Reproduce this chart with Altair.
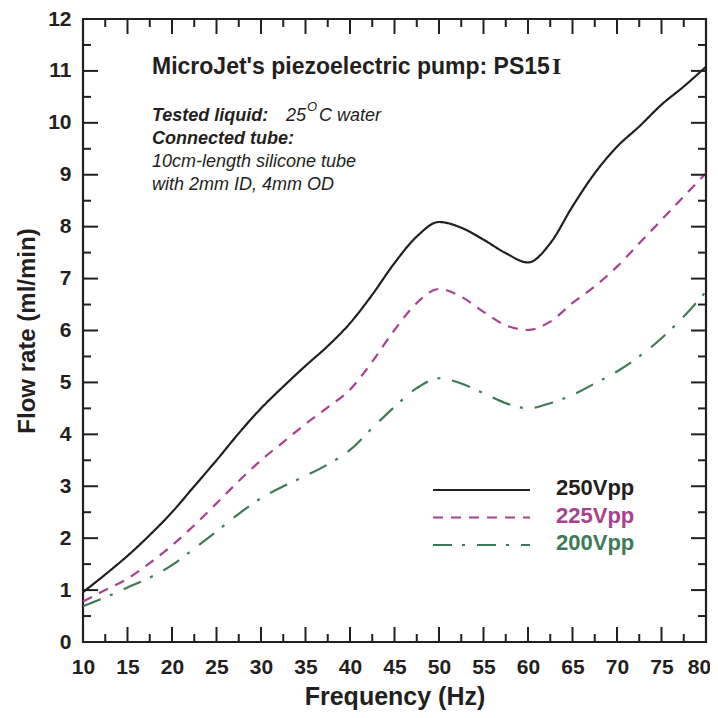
import altair as alt
import pandas as pd

freq = [10, 12.5, 15, 17.5, 20, 22.5, 25, 27.5, 30, 32.5, 35, 37.5, 40, 42.5, 45, 47.5,
        50, 52.5, 55, 57.5, 60, 62.5, 65, 67.5, 70, 72.5, 75, 77.5, 80]
v250 = [0.96, 1.30, 1.66, 2.06, 2.50, 3.00, 3.50, 4.02, 4.50, 4.92, 5.32, 5.70, 6.14, 6.69, 7.30, 7.81,
        8.09, 7.98, 7.75, 7.49, 7.31, 7.68, 8.39, 9.03, 9.54, 9.93, 10.35, 10.70, 11.08]
v225 = [0.78, 1.00, 1.22, 1.52, 1.86, 2.25, 2.67, 3.10, 3.50, 3.85, 4.20, 4.52, 4.86, 5.40, 6.01, 6.53,
        6.80, 6.65, 6.36, 6.10, 6.01, 6.17, 6.53, 6.85, 7.23, 7.68, 8.13, 8.58, 9.03]
v200 = [0.69, 0.86, 1.05, 1.24, 1.48, 1.80, 2.13, 2.47, 2.77, 3.00, 3.20, 3.42, 3.70, 4.12, 4.53, 4.89,
        5.08, 4.98, 4.79, 4.60, 4.50, 4.60, 4.76, 4.98, 5.21, 5.50, 5.85, 6.27, 6.75]

series = ["250Vpp", "225Vpp", "200Vpp"]
colors = ["#231f20", "#a8428c", "#3e7a58"]
dashes = [[1, 0], [10, 8], [19, 10, 3, 12]]

x_major = [10, 15, 20, 25, 30, 35, 40, 45, 50, 55, 60, 65, 70, 75, 80]
x_minor = [12.5, 17.5, 22.5, 27.5, 32.5, 37.5, 42.5, 47.5, 52.5, 57.5, 62.5, 67.5, 72.5, 77.5]
y_major = [0, 1, 2, 3, 4, 5, 6, 7, 8, 9, 10, 11, 12]
y_minor = [0.5, 1.5, 2.5, 3.5, 4.5, 5.5, 6.5, 7.5, 8.5, 9.5, 10.5, 11.5]

W, H = 623, 623
FONT = "Liberation Sans"
INK = "#231f20"

rows = []
for s, vals in zip(series, [v250, v225, v200]):
    for f, v in zip(freq, vals):
        rows.append({"f": f, "v": v, "series": s})
df = pd.DataFrame(rows)

xs = alt.Scale(domain=[10, 80], nice=False, zero=False)
ys = alt.Scale(domain=[0, 12], nice=False, zero=False)
cs = alt.Scale(domain=series, range=colors)
ds = alt.Scale(domain=series, range=dashes)

lines = alt.Chart(df).mark_line(interpolate="monotone", strokeWidth=2.2, clip=True).encode(
    x=alt.X("f:Q", scale=xs,
            axis=alt.Axis(values=x_major, title="Frequency (Hz)", grid=False, ticks=False, domain=False,
                          labelFont=FONT, labelFontWeight="bold", labelFontSize=21, labelColor=INK,
                          labelPadding=14, titleFont=FONT, titleFontWeight="bold", titleFontSize=25,
                          titleColor=INK, titlePadding=7, labelFlush=False,
                          labelOffset={"condition": {"test": "datum.value == 80", "value": -7}, "value": 0})),
    y=alt.Y("v:Q", scale=ys,
            axis=alt.Axis(values=y_major, title="Flow rate (ml/min)", grid=False, ticks=False, domain=False,
                          labelFont=FONT, labelFontWeight="bold", labelFontSize=21, labelColor=INK,
                          labelPadding=12, titleFont=FONT, titleFontWeight="bold", titleFontSize=24,
                          titleColor=INK, titlePadding=8, labelFlush=False)),
    color=alt.Color("series:N", scale=cs, legend=None),
    strokeDash=alt.StrokeDash("series:N", scale=ds, legend=None),
    detail="series:N",
)

xmaj = pd.DataFrame({"t": x_major})
xmin = pd.DataFrame({"t": x_minor})
ymaj = pd.DataFrame({"t": y_major})
ymin = pd.DataFrame({"t": y_minor})

def xticks(d, length):
    b = alt.Chart(d).mark_rule(color=INK, strokeWidth=2).encode(
        x=alt.X("t:Q", scale=xs), y=alt.value(H), y2=alt.value(H - length))
    t = alt.Chart(d).mark_rule(color=INK, strokeWidth=2).encode(
        x=alt.X("t:Q", scale=xs), y=alt.value(0), y2=alt.value(length))
    return b + t

def yticks(d, length):
    l = alt.Chart(d).mark_rule(color=INK, strokeWidth=2).encode(
        y=alt.Y("t:Q", scale=ys), x=alt.value(0), x2=alt.value(length))
    r = alt.Chart(d).mark_rule(color=INK, strokeWidth=2).encode(
        y=alt.Y("t:Q", scale=ys), x=alt.value(W), x2=alt.value(W - length))
    return l + r

ticks = xticks(xmaj, 15) + xticks(xmin, 8) + yticks(ymaj, 15) + yticks(ymin, 8)

legend_layers = []
for i, (s, c, d) in enumerate(zip(series, colors, dashes)):
    yy = 471 + 27.5 * i
    one = pd.DataFrame({"series": [s]})
    legend_layers.append(alt.Chart(one).mark_rule(strokeWidth=2.2, color=c, strokeDash=d).encode(
        x=alt.value(350), x2=alt.value(447), y=alt.value(yy)))
    legend_layers.append(alt.Chart(one).mark_text(
        align="left", baseline="middle", font=FONT, fontWeight="bold", fontSize=22, color=c, dy=-2).encode(
        x=alt.value(473), y=alt.value(yy), text="series:N"))

def label(txt, x, y, size, weight="normal", style="normal", font=FONT):
    return alt.Chart(pd.DataFrame({"a": [0]})).mark_text(
        text=txt, align="left", baseline="alphabetic", font=font, fontSize=size,
        fontWeight=weight, fontStyle=style, color=INK).encode(
        x=alt.value(x), y=alt.value(y))

notes = (
    label("MicroJet's piezoelectric pump: PS15", 69, 55, 23, weight="bold")
    + label("I", 469, 55, 24, weight="bold", font="Liberation Serif")
    + label("Tested liquid:", 69, 102, 18, weight="bold", style="italic")
    + label("25", 203, 102, 18, style="italic")
    + label("O", 224, 92, 13, style="italic")
    + label("C water", 236, 102, 18, style="italic")
    + label("Connected tube:", 69, 125, 18, weight="bold", style="italic")
    + label("10cm-length silicone tube", 69, 148, 18, style="italic")
    + label("with 2mm ID, 4mm OD", 69, 171, 18, style="italic")
)

chart = alt.layer(lines, ticks, *legend_layers, notes).properties(
    width=W, height=H,
    autosize=alt.AutoSizeParams(type="none"),
    padding={"left": 75, "top": 11, "right": 4, "bottom": 68},
).configure_view(stroke=INK, strokeWidth=2.2)

chart.save("out.html", embed_options={"renderer": "svg", "actions": False})
